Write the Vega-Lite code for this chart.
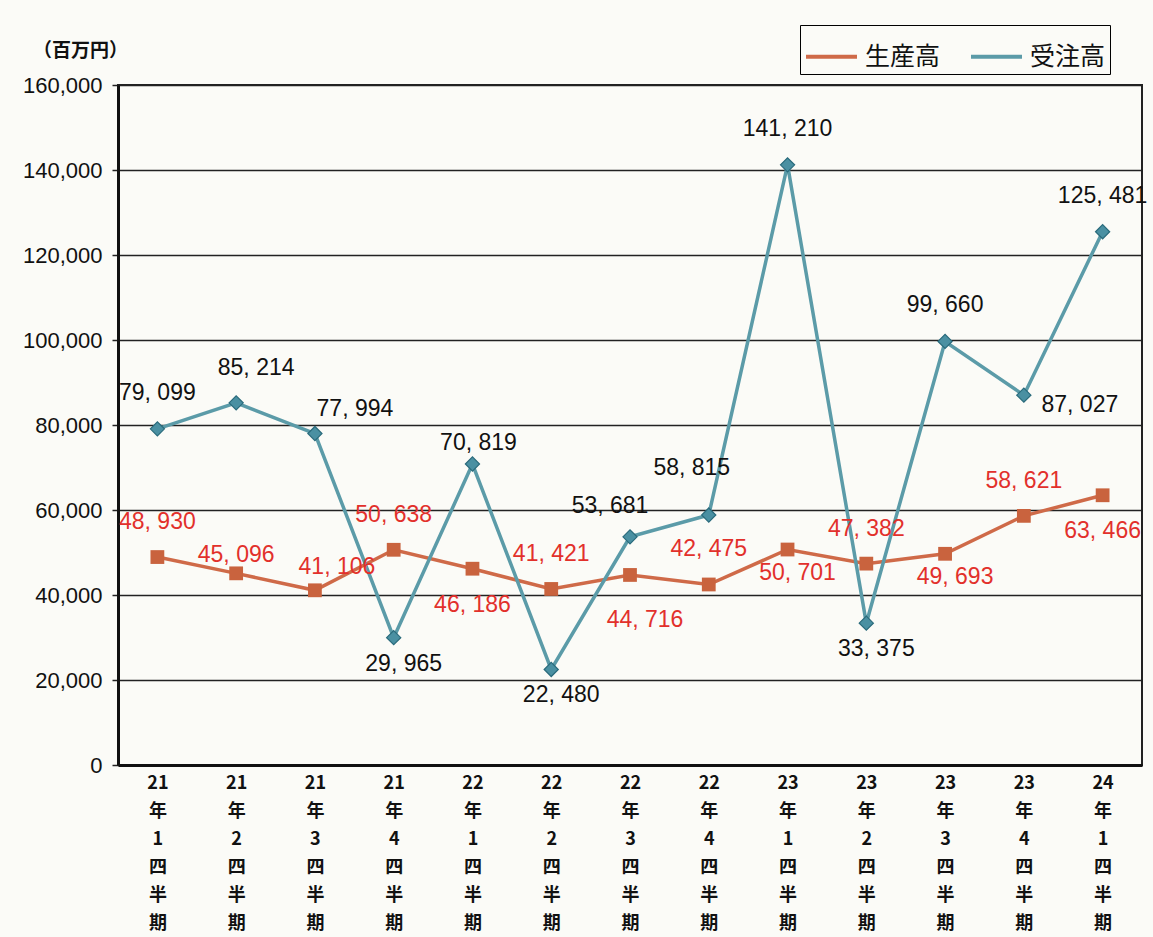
{
  "$schema": "https://vega.github.io/schema/vega-lite/v6.json",
  "width": 1024,
  "height": 680,
  "autosize": {"type": "none"},
  "padding": {"left": 118, "top": 85, "right": 11, "bottom": 172},
  "background": "#fbfbf7",
  "config": {"view": {"stroke": "#222", "strokeWidth": 2}, "font": "Noto Sans CJK JP"},
  "data": {"values": [
    {"q": "21年1四半期", "series": "生産高", "value": 48930},
    {"q": "21年1四半期", "series": "受注高", "value": 79099},
    {"q": "21年2四半期", "series": "生産高", "value": 45096},
    {"q": "21年2四半期", "series": "受注高", "value": 85214},
    {"q": "21年3四半期", "series": "生産高", "value": 41106},
    {"q": "21年3四半期", "series": "受注高", "value": 77994},
    {"q": "21年4四半期", "series": "生産高", "value": 50638},
    {"q": "21年4四半期", "series": "受注高", "value": 29965},
    {"q": "22年1四半期", "series": "生産高", "value": 46186},
    {"q": "22年1四半期", "series": "受注高", "value": 70819},
    {"q": "22年2四半期", "series": "生産高", "value": 41421},
    {"q": "22年2四半期", "series": "受注高", "value": 22480},
    {"q": "22年3四半期", "series": "生産高", "value": 44716},
    {"q": "22年3四半期", "series": "受注高", "value": 53681},
    {"q": "22年4四半期", "series": "生産高", "value": 42475},
    {"q": "22年4四半期", "series": "受注高", "value": 58815},
    {"q": "23年1四半期", "series": "生産高", "value": 50701},
    {"q": "23年1四半期", "series": "受注高", "value": 141210},
    {"q": "23年2四半期", "series": "生産高", "value": 47382},
    {"q": "23年2四半期", "series": "受注高", "value": 33375},
    {"q": "23年3四半期", "series": "生産高", "value": 49693},
    {"q": "23年3四半期", "series": "受注高", "value": 99660},
    {"q": "23年4四半期", "series": "生産高", "value": 58621},
    {"q": "23年4四半期", "series": "受注高", "value": 87027},
    {"q": "24年1四半期", "series": "生産高", "value": 63466},
    {"q": "24年1四半期", "series": "受注高", "value": 125481}
  ]},
  "transform": [{"calculate": "floor(datum.value / 1000) + ', ' + slice('00' + (datum.value % 1000), -3)", "as": "label"}],
  "encoding": {
    "x": {
      "field": "q", "type": "nominal", "sort": null,
      "scale": {"padding": 0.5},
      "axis": {
        "title": null,
        "labelExpr": "[slice(datum.value,0,2),'年',slice(datum.value,3,4),'四','半','期']",
        "labelAngle": 0, "labelFontSize": 18, "labelLineHeight": 28, "labelBaseline": "top",
        "labelPadding": 9, "labelColor": "#111", "labelFontWeight": "bold",
        "ticks": false,
        "domainColor": "#111", "domainWidth": 3, "grid": false
      }
    },
    "y": {
      "field": "value", "type": "quantitative",
      "scale": {"domain": [0, 160000], "nice": false},
      "axis": {
        "values": [0, 20000, 40000, 60000, 80000, 100000, 120000, 140000, 160000],
        "labelExpr": "datum.value == 0 ? '0' : floor(datum.value / 1000) + ',000'",
        "labelFont": "Liberation Sans", "labelFontSize": 22, "labelColor": "#111",
        "labelPadding": 10, "tickSize": 6, "tickColor": "#222", "tickWidth": 1.5,
        "domainColor": "#111", "domainWidth": 3,
        "grid": true, "gridColor": "#222", "gridWidth": 1.3,
        "title": "（百万円）", "titleAngle": 0, "titleX": -38, "titleY": -35,
        "titleAlign": "center", "titleBaseline": "middle", "titleFontSize": 19,
        "titleFontWeight": "bold", "titleColor": "#111", "titleFont": "Noto Sans CJK JP"
      }
    }
  },
  "layer": [
    {
      "mark": {"type": "line", "strokeWidth": 3.5},
      "encoding": {
        "color": {
          "field": "series", "type": "nominal",
          "scale": {"domain": ["生産高", "受注高"], "range": ["#cf6a48", "#5b9ba8"]},
          "legend": {
            "title": null, "orient": "none", "legendX": 682, "legendY": -60,
            "direction": "horizontal", "labelFontSize": 25, "labelFont": "Noto Sans CJK JP",
            "labelColor": "#111", "symbolType": "stroke", "symbolSize": 2600, "symbolStrokeWidth": 4,
            "strokeColor": "#000", "padding": 4, "columnPadding": 22, "labelOffset": 6
          }
        }
      }
    },
    {
      "transform": [{"filter": {"field": "series", "equal": "生産高"}}],
      "mark": {"type": "point", "shape": "square", "filled": true, "size": 190, "color": "#c9633e", "opacity": 1},
      "encoding": {}
    },
    {
      "transform": [{"filter": {"field": "series", "equal": "受注高"}}],
      "mark": {"type": "point", "shape": "diamond", "filled": true, "size": 200, "fill": "#4a90a2", "stroke": "#2a6b7c", "strokeWidth": 1.2, "opacity": 1},
      "encoding": {}
    },
    {"transform": [{"filter": {"field": "series", "equal": "受注高"}}, {"filter": {"field": "q", "oneOf": ["21年1四半期", "23年1四半期", "23年3四半期", "24年1四半期"]}}],
     "mark": {"type": "text", "dx": 0, "dy": -36, "font": "Liberation Sans", "fontSize": 23, "color": "#111", "align": "center", "baseline": "middle"},
     "encoding": {"text": {"field": "label", "type": "nominal"}}},
    {"transform": [{"filter": {"field": "series", "equal": "受注高"}}, {"filter": {"field": "q", "oneOf": ["21年2四半期"]}}],
     "mark": {"type": "text", "dx": 20, "dy": -35, "font": "Liberation Sans", "fontSize": 23, "color": "#111", "align": "center", "baseline": "middle"},
     "encoding": {"text": {"field": "label", "type": "nominal"}}},
    {"transform": [{"filter": {"field": "series", "equal": "受注高"}}, {"filter": {"field": "q", "oneOf": ["21年3四半期"]}}],
     "mark": {"type": "text", "dx": 40, "dy": -25, "font": "Liberation Sans", "fontSize": 23, "color": "#111", "align": "center", "baseline": "middle"},
     "encoding": {"text": {"field": "label", "type": "nominal"}}},
    {"transform": [{"filter": {"field": "series", "equal": "受注高"}}, {"filter": {"field": "q", "oneOf": ["22年1四半期"]}}],
     "mark": {"type": "text", "dx": 6, "dy": -21, "font": "Liberation Sans", "fontSize": 23, "color": "#111", "align": "center", "baseline": "middle"},
     "encoding": {"text": {"field": "label", "type": "nominal"}}},
    {"transform": [{"filter": {"field": "series", "equal": "受注高"}}, {"filter": {"field": "q", "oneOf": ["22年3四半期"]}}],
     "mark": {"type": "text", "dx": -20, "dy": -31, "font": "Liberation Sans", "fontSize": 23, "color": "#111", "align": "center", "baseline": "middle"},
     "encoding": {"text": {"field": "label", "type": "nominal"}}},
    {"transform": [{"filter": {"field": "series", "equal": "受注高"}}, {"filter": {"field": "q", "oneOf": ["22年4四半期"]}}],
     "mark": {"type": "text", "dx": -17, "dy": -47, "font": "Liberation Sans", "fontSize": 23, "color": "#111", "align": "center", "baseline": "middle"},
     "encoding": {"text": {"field": "label", "type": "nominal"}}},
    {"transform": [{"filter": {"field": "series", "equal": "受注高"}}, {"filter": {"field": "q", "oneOf": ["21年4四半期", "22年2四半期", "23年2四半期"]}}],
     "mark": {"type": "text", "dx": 10, "dy": 26, "font": "Liberation Sans", "fontSize": 23, "color": "#111", "align": "center", "baseline": "middle"},
     "encoding": {"text": {"field": "label", "type": "nominal"}}},
    {"transform": [{"filter": {"field": "series", "equal": "受注高"}}, {"filter": {"field": "q", "oneOf": ["23年4四半期"]}}],
     "mark": {"type": "text", "dx": 56, "dy": 10, "font": "Liberation Sans", "fontSize": 23, "color": "#111", "align": "center", "baseline": "middle"},
     "encoding": {"text": {"field": "label", "type": "nominal"}}},
    {"transform": [{"filter": {"field": "series", "equal": "生産高"}}, {"filter": {"field": "q", "oneOf": ["21年1四半期", "21年4四半期", "22年2四半期", "22年4四半期", "23年2四半期", "23年4四半期"]}}],
     "mark": {"type": "text", "dx": 0, "dy": -35, "font": "Liberation Sans", "fontSize": 23, "color": "#e2302b", "align": "center", "baseline": "middle"},
     "encoding": {"text": {"field": "label", "type": "nominal"}}},
    {"transform": [{"filter": {"field": "series", "equal": "生産高"}}, {"filter": {"field": "q", "oneOf": ["21年2四半期"]}}],
     "mark": {"type": "text", "dx": 0, "dy": -18, "font": "Liberation Sans", "fontSize": 23, "color": "#e2302b", "align": "center", "baseline": "middle"},
     "encoding": {"text": {"field": "label", "type": "nominal"}}},
    {"transform": [{"filter": {"field": "series", "equal": "生産高"}}, {"filter": {"field": "q", "oneOf": ["21年3四半期"]}}],
     "mark": {"type": "text", "dx": 22, "dy": -23, "font": "Liberation Sans", "fontSize": 23, "color": "#e2302b", "align": "center", "baseline": "middle"},
     "encoding": {"text": {"field": "label", "type": "nominal"}}},
    {"transform": [{"filter": {"field": "series", "equal": "生産高"}}, {"filter": {"field": "q", "oneOf": ["22年1四半期", "24年1四半期"]}}],
     "mark": {"type": "text", "dx": 0, "dy": 36, "font": "Liberation Sans", "fontSize": 23, "color": "#e2302b", "align": "center", "baseline": "middle"},
     "encoding": {"text": {"field": "label", "type": "nominal"}}},
    {"transform": [{"filter": {"field": "series", "equal": "生産高"}}, {"filter": {"field": "q", "oneOf": ["22年3四半期"]}}],
     "mark": {"type": "text", "dx": 15, "dy": 45, "font": "Liberation Sans", "fontSize": 23, "color": "#e2302b", "align": "center", "baseline": "middle"},
     "encoding": {"text": {"field": "label", "type": "nominal"}}},
    {"transform": [{"filter": {"field": "series", "equal": "生産高"}}, {"filter": {"field": "q", "oneOf": ["23年1四半期", "23年3四半期"]}}],
     "mark": {"type": "text", "dx": 10, "dy": 23, "font": "Liberation Sans", "fontSize": 23, "color": "#e2302b", "align": "center", "baseline": "middle"},
     "encoding": {"text": {"field": "label", "type": "nominal"}}}
  ]
}
